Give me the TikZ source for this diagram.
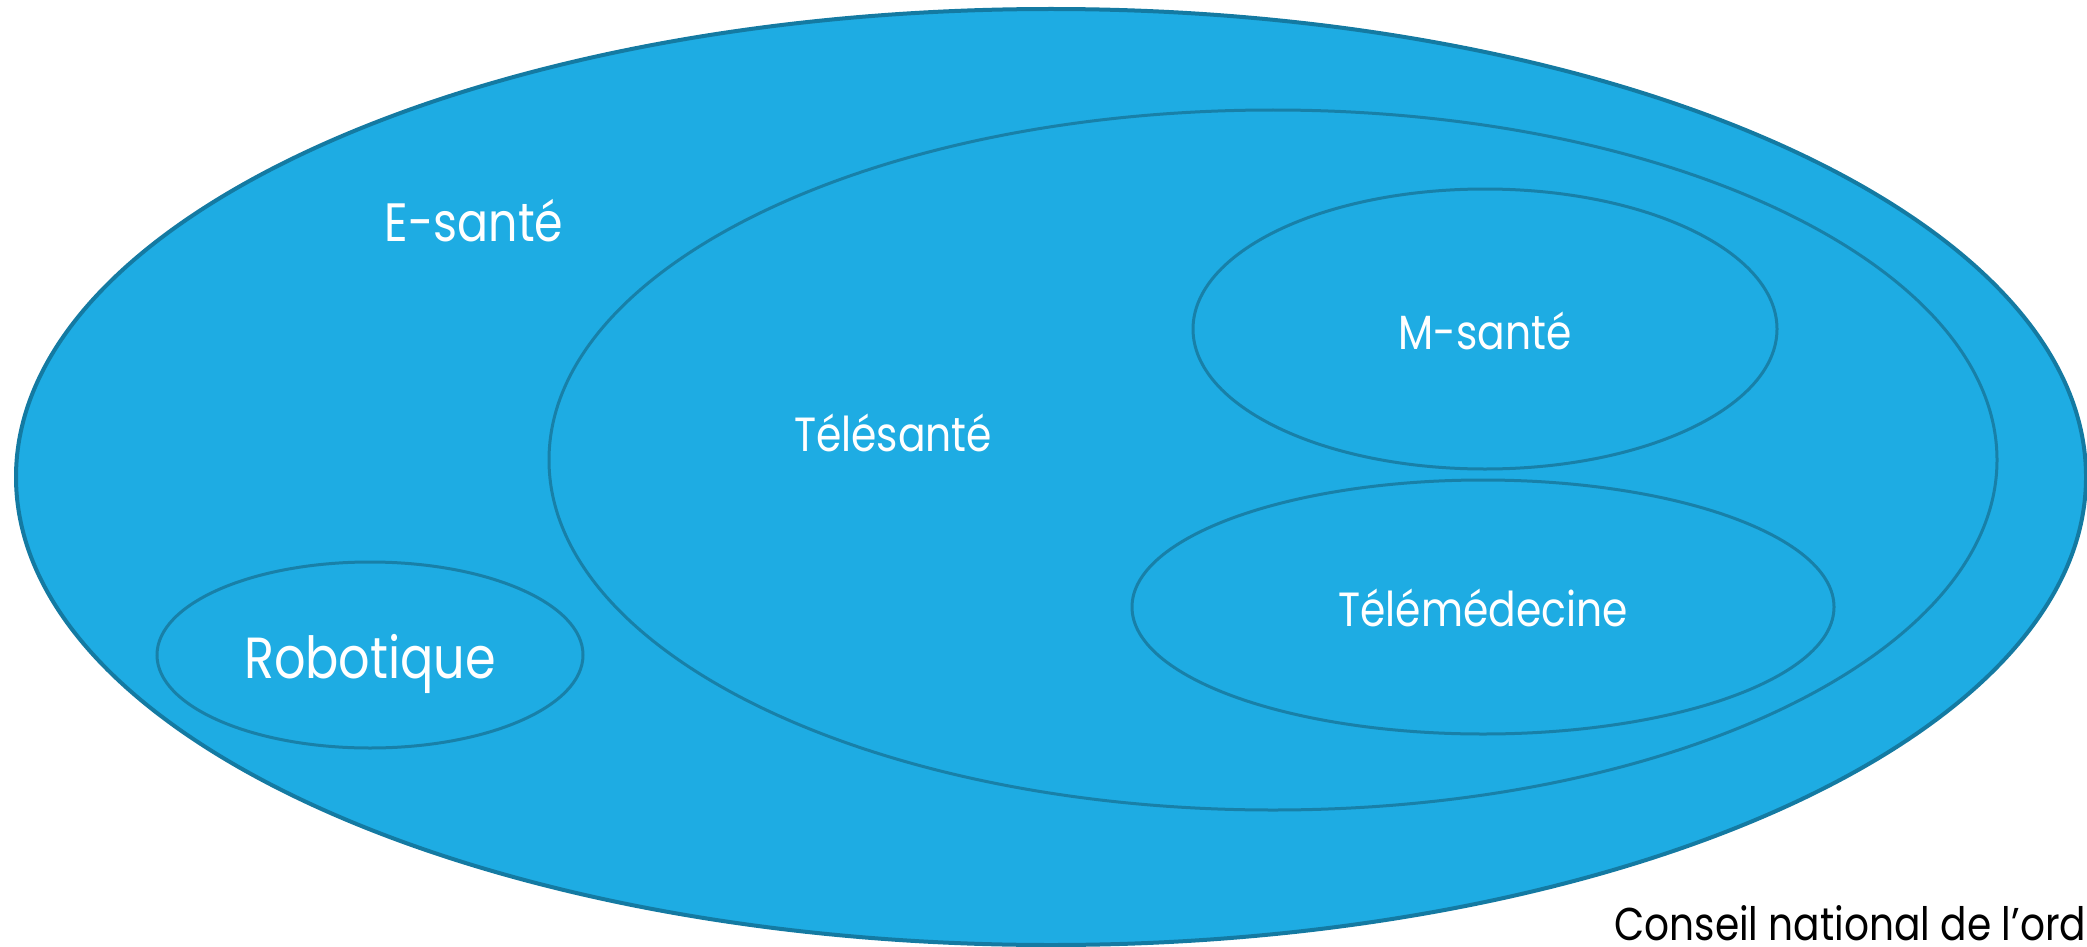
\documentclass[tikz,border=0pt]{standalone}
\usepackage{fontspec}
\setmainfont{Poppins}[FakeStretch=0.85]
\definecolor{fillblue}{RGB}{30,172,227}
\definecolor{edgeblue}{RGB}{24,128,168}
\definecolor{outeredge}{RGB}{20,122,162}
\begin{document}
\begin{tikzpicture}[x=0.5pt,y=-0.5pt,
  blob/.style={fill=fillblue, draw=edgeblue, line width=1.5pt},
  lbl/.style={text=white, inner sep=0pt, anchor=base},
  big/.style={font=\fontsize{29pt}{34pt}\selectfont},
  mid/.style={font=\fontsize{24pt}{28pt}\selectfont}]
\useasboundingbox (0,0) rectangle (2087,947);
\clip (0,0) rectangle (2087,947);
\path[blob, draw=outeredge, line width=2pt] (1051,477) ellipse [x radius=1035, y radius=468];
\path[blob] (1273,460) ellipse [x radius=724, y radius=350];
\path[blob] (1485,329) ellipse [x radius=292, y radius=140];
\path[blob] (1483,607) ellipse [x radius=351, y radius=127];
\path[blob] (370,655) ellipse [x radius=213, y radius=93];
\node[lbl,font=\fontsize{27pt}{32pt}\selectfont] (esante) at (474,241) {E-santé};
\node[lbl,mid] (telesante) at (893,451) {Télésanté};
\node[lbl,mid] (msante) at (1485,349) {M-santé};
\node[lbl,mid] (telemed) at (1483,626) {Télémédecine};
\node[lbl,big] (robot) at (370,678) {Robotique};
\node[inner sep=0pt, anchor=base west, font=\fontsize{23pt}{27pt}\selectfont] (source) at (1614,940) {Conseil national de l’ordre};
\end{tikzpicture}
\end{document}
